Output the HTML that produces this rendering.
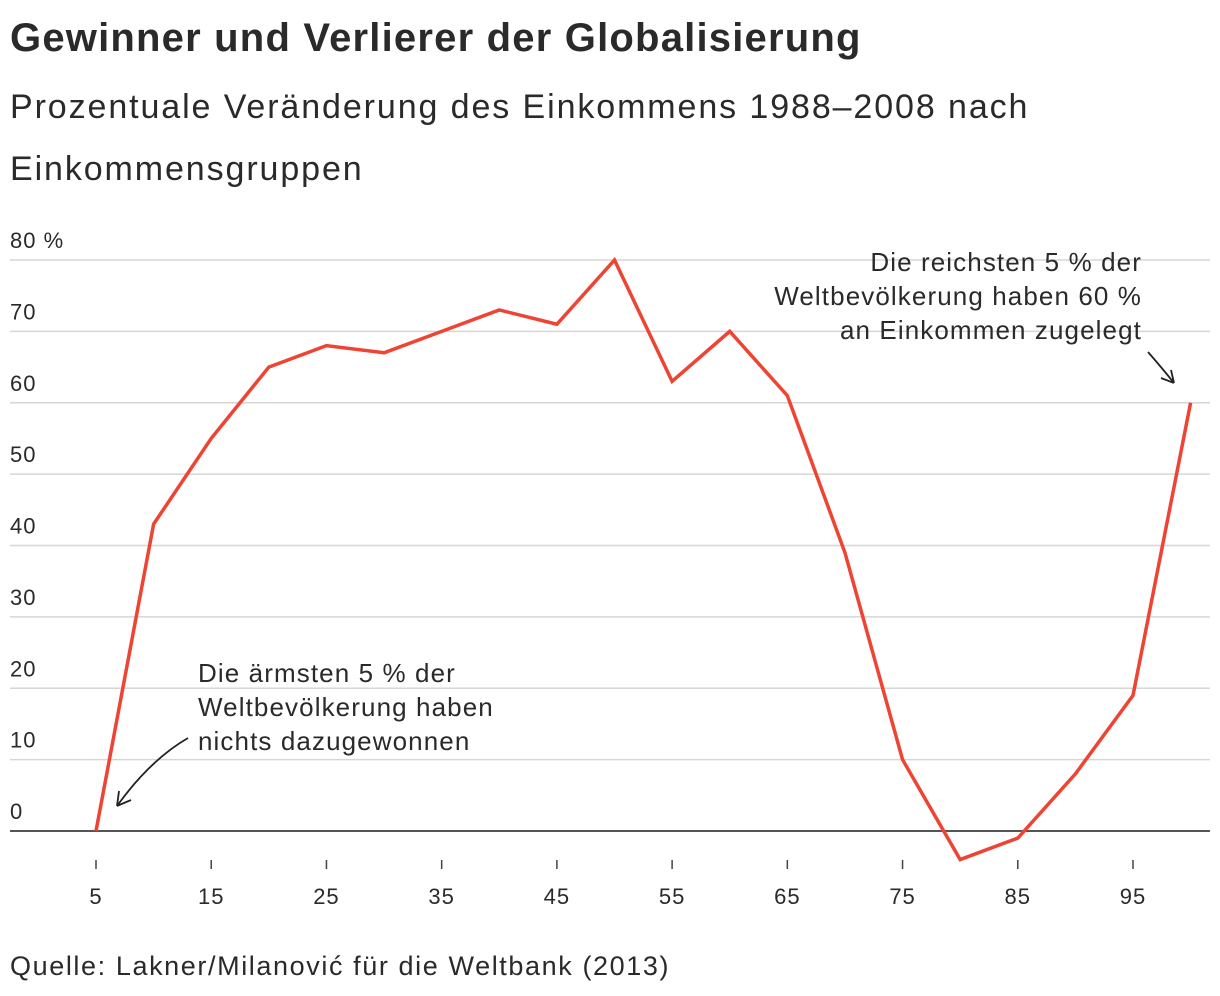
<!DOCTYPE html>
<html><head><meta charset="utf-8"><style>
body{margin:0;background:#fff;width:1220px;height:996px;overflow:hidden;font-family:"Liberation Sans",sans-serif;color:#222}
h1{position:absolute;left:10px;top:16px;margin:0;font-size:40px;letter-spacing:1.2px;font-weight:bold;color:#2a2a2a;white-space:nowrap}
.sub{position:absolute;left:10px;top:76px;margin:0;font-size:34px;letter-spacing:1.9px;line-height:62px;font-weight:normal;color:#2a2a2a;white-space:nowrap}
.src{position:absolute;left:10px;top:951px;font-size:27px;letter-spacing:1.6px;color:#2a2a2a;white-space:nowrap}
svg{position:absolute;left:0;top:0}
</style></head><body>
<h1>Gewinner und Verlierer der Globalisierung</h1>
<div class="sub">Prozentuale Veränderung des Einkommens 1988–2008 nach<br>Einkommensgruppen</div>
<svg id="chart" width="1220" height="996"></svg>
<div class="src">Quelle: Lakner/Milanović für die Weltbank (2013)</div>
<script>
const categories=[5,10,15,20,25,30,35,40,45,50,55,60,65,70,75,80,85,90,95,100];
const values=[0,43,55,65,68,67,70,73,71,80,63,70,61,39,10,-4,-1,8,19,60];
const yTicks=[0,10,20,30,40,50,60,70,80];
const xTicks=[5,15,25,35,45,55,65,75,85,95];
const NS="http://www.w3.org/2000/svg";
const svg=document.getElementById('chart');
const x=v=>96+(v-5)*(1133-96)/90;
const y=v=>831-v*(831-260)/80;
function mk(t,a){const e=document.createElementNS(NS,t);for(const k in a)e.setAttribute(k,a[k]);svg.appendChild(e);return e;}
yTicks.forEach(t=>{
 const l=mk('line',{x1:10,x2:1210,y1:y(t),y2:y(t),stroke:t===0?'#555':'#d6d6d6','stroke-width':t===0?2:1.5});
 
 
 const tx=mk('text',{x:10,y:y(t)-12,'font-size':22,'letter-spacing':1,fill:'#2a2a2a','font-family':'Liberation Sans, sans-serif'});
 tx.textContent=t===80?'80 %':String(t);
 
 
});
xTicks.forEach(t=>{
 const l=mk('line',{x1:x(t),x2:x(t),y1:860,y2:869,stroke:'#444','stroke-width':1.5});
 
 
 const tx=mk('text',{x:x(t),y:904,'font-size':22,'letter-spacing':1,fill:'#2a2a2a','text-anchor':'middle','font-family':'Liberation Sans, sans-serif'});
 tx.textContent=String(t);
 
 
});
const p=mk('polyline',{points:categories.map((c,i)=>x(c)+','+y(values[i])).join(' '),fill:'none',stroke:'#ee4433','stroke-width':3.5,'stroke-linejoin':'miter'});


function ann(lines,ax,ay,anchor,name){
 lines.forEach((s,i)=>{const t=mk('text',{x:ax,y:ay+i*34,'font-size':26,'letter-spacing':1.1,fill:'#2a2a2a','text-anchor':anchor,'font-family':'Liberation Sans, sans-serif'});t.textContent=s;
 
 });
}
ann(['Die ärmsten 5 % der','Weltbevölkerung haben','nichts dazugewonnen'],198,682,'start','annotation-poorest');
ann(['Die reichsten 5 % der','Weltbevölkerung haben 60 %','an Einkommen zugelegt'],1142,271,'end','annotation-richest');
const a1=mk('path',{d:'M188 738 Q150 760 117 806 M117 806 L119 791 M117 806 L131 800',fill:'none',stroke:'#222','stroke-width':1.8});


const a2=mk('path',{d:'M1148 352 Q1162 368 1174 383 M1174 383 L1161 378 M1174 383 L1171 370',fill:'none',stroke:'#222','stroke-width':1.8});


</script>
</body></html>
